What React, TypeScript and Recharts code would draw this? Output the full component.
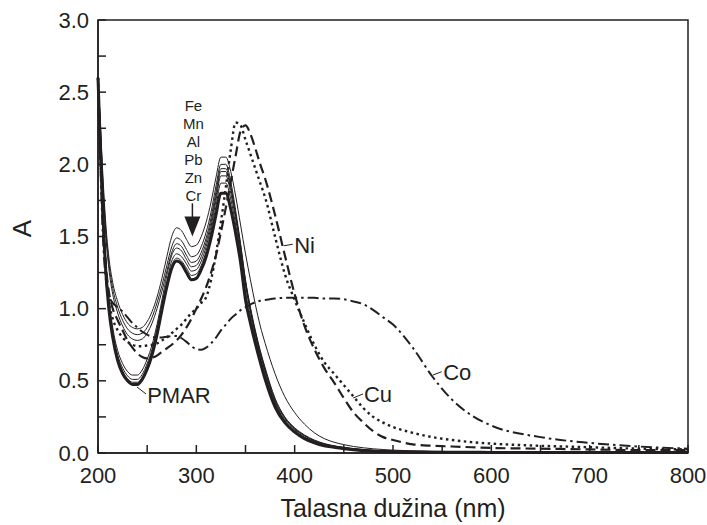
import React from 'react';
import { LineChart, Line, XAxis, YAxis, ReferenceArea, ReferenceLine, ReferenceDot, Label } from 'recharts';

const wavelengths = [200, 202, 205, 208, 211, 215, 220, 225, 230, 235, 240, 245, 250, 255, 260, 265, 270, 275, 280, 285, 290, 295, 300, 305, 310, 315, 320, 325, 330, 335, 340, 345, 350, 355, 360, 365, 370, 380, 390, 400, 410, 420, 430, 440, 450, 460, 470, 480, 490, 500, 520, 540, 560, 580, 600, 650, 700, 750, 800];

const pmar = [2.60, 2.20, 1.65, 1.25, 1.00, 0.80, 0.64, 0.55, 0.50, 0.475, 0.475, 0.51, 0.58, 0.68, 0.82, 0.99, 1.15, 1.28, 1.33, 1.31, 1.25, 1.20, 1.21, 1.27, 1.36, 1.49, 1.65, 1.80, 1.80, 1.69, 1.52, 1.32, 1.06, 0.90, 0.76, 0.63, 0.51, 0.32, 0.21, 0.145, 0.10, 0.07, 0.05, 0.04, 0.03, 0.022, 0.016, 0.012, 0.01, 0.009, 0.007, 0.006, 0.005, 0.005, 0.004, 0.004, 0.003, 0.003, 0.003];
const cr = [2.60, 2.22, 1.68, 1.28, 1.03, 0.82, 0.66, 0.57, 0.515, 0.49, 0.49, 0.525, 0.60, 0.70, 0.84, 1.01, 1.17, 1.30, 1.35, 1.33, 1.28, 1.23, 1.24, 1.30, 1.40, 1.54, 1.71, 1.87, 1.87, 1.76, 1.58, 1.38, 1.12, 0.95, 0.80, 0.66, 0.54, 0.34, 0.22, 0.15, 0.105, 0.075, 0.055, 0.042, 0.032, 0.024, 0.018, 0.014, 0.011, 0.01, 0.008, 0.007, 0.006, 0.005, 0.005, 0.004, 0.004, 0.003, 0.003];
const zn = [2.60, 2.24, 1.70, 1.30, 1.05, 0.84, 0.68, 0.59, 0.535, 0.51, 0.51, 0.545, 0.62, 0.72, 0.86, 1.03, 1.19, 1.33, 1.38, 1.36, 1.31, 1.26, 1.27, 1.33, 1.43, 1.57, 1.75, 1.92, 1.92, 1.80, 1.62, 1.41, 1.16, 0.98, 0.82, 0.68, 0.56, 0.35, 0.23, 0.16, 0.11, 0.08, 0.058, 0.045, 0.034, 0.026, 0.02, 0.015, 0.012, 0.01, 0.008, 0.007, 0.006, 0.005, 0.005, 0.004, 0.004, 0.003, 0.003];
const pb = [2.60, 2.25, 1.72, 1.33, 1.08, 0.87, 0.71, 0.62, 0.565, 0.54, 0.54, 0.575, 0.65, 0.75, 0.89, 1.06, 1.23, 1.37, 1.42, 1.40, 1.34, 1.29, 1.30, 1.36, 1.46, 1.60, 1.78, 1.95, 1.95, 1.83, 1.65, 1.44, 1.19, 1.00, 0.84, 0.70, 0.58, 0.37, 0.245, 0.17, 0.12, 0.085, 0.062, 0.048, 0.036, 0.028, 0.021, 0.016, 0.013, 0.011, 0.009, 0.007, 0.006, 0.005, 0.005, 0.004, 0.004, 0.003, 0.003];
const al = [2.60, 2.30, 1.85, 1.50, 1.28, 1.10, 0.97, 0.88, 0.82, 0.79, 0.78, 0.79, 0.83, 0.90, 1.00, 1.12, 1.26, 1.39, 1.45, 1.43, 1.37, 1.32, 1.33, 1.39, 1.49, 1.63, 1.81, 1.97, 1.97, 1.85, 1.65, 1.42, 1.18, 0.99, 0.83, 0.69, 0.57, 0.36, 0.24, 0.165, 0.12, 0.085, 0.062, 0.048, 0.037, 0.029, 0.023, 0.018, 0.015, 0.013, 0.011, 0.009, 0.008, 0.007, 0.006, 0.005, 0.004, 0.004, 0.003];
const mn = [2.60, 2.32, 1.88, 1.54, 1.32, 1.14, 1.01, 0.92, 0.86, 0.83, 0.82, 0.83, 0.87, 0.94, 1.04, 1.16, 1.30, 1.43, 1.49, 1.47, 1.41, 1.36, 1.37, 1.43, 1.53, 1.67, 1.85, 2.00, 2.00, 1.88, 1.68, 1.45, 1.20, 1.01, 0.85, 0.71, 0.59, 0.38, 0.25, 0.175, 0.125, 0.09, 0.066, 0.05, 0.04, 0.031, 0.025, 0.02, 0.016, 0.013, 0.011, 0.009, 0.008, 0.007, 0.006, 0.005, 0.004, 0.004, 0.003];
const fe = [2.60, 2.34, 1.92, 1.58, 1.36, 1.18, 1.05, 0.96, 0.90, 0.87, 0.86, 0.87, 0.91, 0.98, 1.08, 1.21, 1.36, 1.50, 1.56, 1.54, 1.48, 1.43, 1.44, 1.50, 1.60, 1.74, 1.91, 2.05, 2.05, 1.95, 1.78, 1.58, 1.38, 1.20, 1.03, 0.88, 0.76, 0.55, 0.39, 0.28, 0.20, 0.14, 0.10, 0.075, 0.058, 0.045, 0.036, 0.029, 0.024, 0.02, 0.015, 0.012, 0.01, 0.008, 0.007, 0.005, 0.004, 0.004, 0.003];
const ni = [2.60, 2.20, 1.65, 1.30, 1.12, 1.00, 0.92, 0.85, 0.78, 0.73, 0.69, 0.665, 0.655, 0.66, 0.675, 0.70, 0.725, 0.75, 0.78, 0.82, 0.87, 0.93, 1.00, 1.07, 1.15, 1.25, 1.37, 1.53, 1.70, 1.88, 2.06, 2.23, 2.27, 2.21, 2.11, 2.00, 1.90, 1.65, 1.37, 1.10, 0.88, 0.72, 0.59, 0.49, 0.38, 0.28, 0.21, 0.15, 0.11, 0.09, 0.06, 0.05, 0.045, 0.04, 0.035, 0.03, 0.025, 0.02, 0.02];
const cu = [2.60, 2.15, 1.60, 1.25, 1.05, 0.93, 0.85, 0.80, 0.77, 0.75, 0.74, 0.74, 0.745, 0.75, 0.76, 0.78, 0.80, 0.83, 0.86, 0.89, 0.93, 0.97, 1.00, 1.04, 1.08, 1.20, 1.38, 1.60, 1.84, 2.10, 2.29, 2.27, 2.17, 2.07, 1.97, 1.87, 1.77, 1.50, 1.24, 1.06, 0.90, 0.75, 0.63, 0.55, 0.47, 0.39, 0.31, 0.25, 0.21, 0.18, 0.14, 0.11, 0.09, 0.075, 0.065, 0.05, 0.04, 0.03, 0.025];
const co = [2.55, 2.10, 1.50, 1.20, 1.09, 1.04, 1.01, 0.98, 0.94, 0.90, 0.87, 0.84, 0.82, 0.805, 0.80, 0.80, 0.805, 0.81, 0.81, 0.795, 0.77, 0.74, 0.72, 0.715, 0.73, 0.76, 0.80, 0.85, 0.89, 0.93, 0.96, 0.99, 1.01, 1.03, 1.045, 1.055, 1.06, 1.07, 1.075, 1.075, 1.075, 1.075, 1.07, 1.07, 1.065, 1.05, 1.03, 0.99, 0.94, 0.89, 0.73, 0.53, 0.37, 0.26, 0.19, 0.11, 0.07, 0.045, 0.03];

const xTicks = [200, 250, 300, 350, 400, 450, 500, 550, 600, 650, 700, 750, 800];
const yTicks = [0, 0.25, 0.5, 0.75, 1.0, 1.25, 1.5, 1.75, 2.0, 2.25, 2.5, 2.75, 3.0];

const elementNames = ['Fe', 'Mn', 'Al', 'Pb', 'Zn', 'Cr'];
const elementLabelY = [2.41, 2.285, 2.16, 2.035, 1.91, 1.785];
const elementLabelX = 297;

const rows = wavelengths.map((wl, i) => ({
  wl,
  pmar: pmar[i], cr: cr[i], zn: zn[i], pb: pb[i], al: al[i], mn: mn[i], fe: fe[i],
  ni: ni[i], cu: cu[i], co: co[i],
}));

const INK = '#231f20';
const FONT = '"Liberation Sans", Arial, Helvetica, sans-serif';
const TICK_LEN = 8;
const TICK_FONT = 22;
const NOTE_FONT = 22;

const xTickMark = (p: any) => (
  <path d={`M${p.cx},${p.cy}L${p.cx},${p.cy - TICK_LEN}`} stroke={INK} strokeWidth={1.5} fill="none" />
);
const yTickMark = (p: any) => (
  <path d={`M${p.cx},${p.cy}L${p.cx + TICK_LEN},${p.cy}`} stroke={INK} strokeWidth={1.5} fill="none" />
);

const XTick = (p: any) => {
  const v = p.payload.value;
  if (v % 100 !== 0) return <g />;
  return <text x={p.x} y={p.y + 12} dominantBaseline="central" textAnchor="middle" fontSize={TICK_FONT} fill={INK} fontFamily={FONT}>{v}</text>;
};

const YTick = (p: any) => {
  const v = p.payload.value;
  const major = Math.abs(v * 2 - Math.round(v * 2)) < 1e-6;
  if (!major) return <g />;
  return <text x={p.x} y={p.y} textAnchor="end" dominantBaseline="central" fontSize={TICK_FONT} fill={INK} fontFamily={FONT}>{v.toFixed(1)}</text>;
};

const textShape = (label: string, size: number, anchor: string = 'start') => (p: any) => (
  <text x={p.cx} y={p.cy} fontSize={size} textAnchor={anchor} dominantBaseline="central" fill={INK} fontFamily={FONT}>{label}</text>
);

const arrowHead = (p: any) => (
  <polygon points={`${p.cx - 8},${p.cy - 20} ${p.cx + 8},${p.cy - 20} ${p.cx},${p.cy}`} fill={INK} />
);

const thin = ['fe', 'mn', 'al', 'pb', 'zn', 'cr'];

export default function App() {
  return (
    <div>
      <style>{'body{margin:0;background:#fff}'}</style>
      <LineChart width={707} height={525} data={rows} margin={{ top: 20, right: 19, bottom: 0, left: 0 }} style={{ fontFamily: FONT }}>
        <XAxis
          dataKey="wl" type="number" domain={[200, 800]} ticks={xTicks} interval={0}
          height={72} tickSize={10} tickMargin={0} tickLine={false}
          axisLine={{ stroke: INK, strokeWidth: 1.5 }}
          tick={<XTick />}
        >
          <Label content={(props: any) => {
            const vb = props.viewBox;
            return <text x={vb.x + vb.width / 2} y={vb.y + 55} textAnchor="middle" dominantBaseline="central" fontSize={25} fill={INK} fontFamily={FONT}>Talasna dužina (nm)</text>;
          }} />
        </XAxis>
        <YAxis
          type="number" domain={[0, 3]} ticks={yTicks} interval={0}
          width={98} tickSize={9} tickMargin={0} tickLine={false}
          axisLine={{ stroke: INK, strokeWidth: 1.5 }}
          tick={<YTick />}
        >
          <Label content={(props: any) => {
            const vb = props.viewBox;
            const cx = vb.x + 22;
            const cy = vb.y + vb.height / 2 - 8;
            return <text x={cx} y={cy} transform={`rotate(-90 ${cx} ${cy})`} textAnchor="middle" dominantBaseline="central" fontSize={26} fill={INK} fontFamily={FONT}>A</text>;
          }} />
        </YAxis>
        <ReferenceArea x1={200} x2={800} y1={0} y2={3} fill="none" stroke={INK} strokeWidth={1.5} fillOpacity={0} />

        {xTicks.map((t) => (
          <ReferenceDot key={'xt' + t} x={t} y={0} r={0} ifOverflow="visible" shape={xTickMark} />
        ))}
        {yTicks.map((t) => (
          <ReferenceDot key={'yt' + t} x={200} y={t} r={0} ifOverflow="visible" shape={yTickMark} />
        ))}

        {thin.map((k) => (
          <Line key={k} dataKey={k} type="monotone" dot={false} stroke={INK} strokeWidth={1} isAnimationActive={false} />
        ))}
        <Line dataKey="pmar" type="monotone" dot={false} stroke={INK} strokeWidth={3} isAnimationActive={false} />
        <Line dataKey="ni" type="monotone" dot={false} stroke={INK} strokeWidth={2.2} strokeDasharray="10 5" isAnimationActive={false} />
        <Line dataKey="cu" type="monotone" dot={false} stroke={INK} strokeWidth={2.4} strokeDasharray="2.5 3.5" isAnimationActive={false} />
        <Line dataKey="co" type="monotone" dot={false} stroke={INK} strokeWidth={2} strokeDasharray="11 4 2.5 4" isAnimationActive={false} />

        {elementNames.map((n, i) => (
          <ReferenceDot key={n} x={elementLabelX} y={elementLabelY[i]} r={0} shape={textShape(n, 15, 'middle')} />
        ))}
        <ReferenceLine segment={[{ x: 296, y: 1.73 }, { x: 296, y: 1.62 }]} stroke={INK} strokeWidth={1.5} />
        <ReferenceDot x={296} y={1.5} r={0} shape={arrowHead} />

        <ReferenceLine segment={[{ x: 389, y: 1.436 }, { x: 398, y: 1.446 }]} stroke={INK} strokeWidth={1} />
        <ReferenceDot x={399.5} y={1.44} r={0} shape={textShape('Ni', NOTE_FONT)} />

        <ReferenceLine segment={[{ x: 540.5, y: 0.54 }, { x: 549.5, y: 0.563 }]} stroke={INK} strokeWidth={1} />
        <ReferenceDot x={551} y={0.561} r={0} shape={textShape('Co', NOTE_FONT)} />

        <ReferenceLine segment={[{ x: 459.5, y: 0.381 }, { x: 469.5, y: 0.409 }]} stroke={INK} strokeWidth={1} />
        <ReferenceDot x={470.5} y={0.405} r={0} shape={textShape('Cu', NOTE_FONT)} />

        <ReferenceLine segment={[{ x: 239.7, y: 0.457 }, { x: 248.8, y: 0.409 }]} stroke={INK} strokeWidth={1} />
        <ReferenceDot x={250} y={0.4} r={0} shape={textShape('PMAR', NOTE_FONT)} />
      </LineChart>
    </div>
  );
}
